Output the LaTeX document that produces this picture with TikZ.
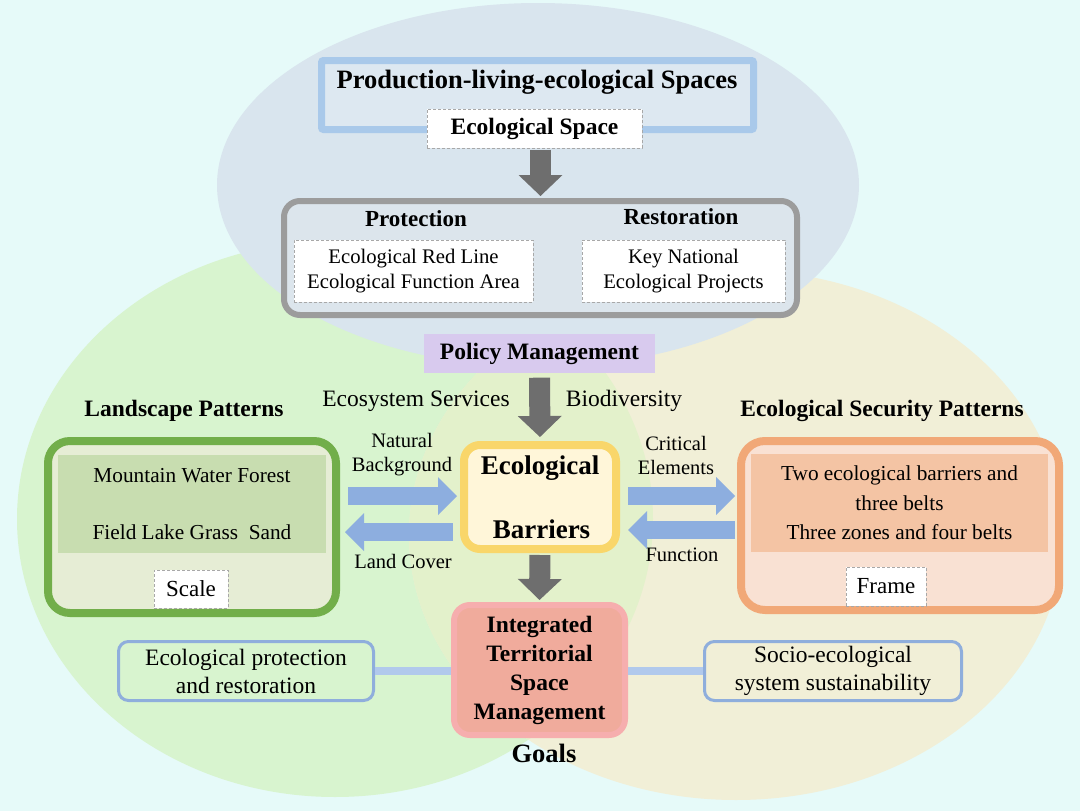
\documentclass[tikz,border=0pt]{standalone}
\usepackage{fontspec}
\setmainfont{Liberation Serif}
\usetikzlibrary{arrows.meta}
\definecolor{bg}{HTML}{E6FAF9}
\definecolor{ellgreen}{HTML}{D8F4CF}
\definecolor{ellbeige}{HTML}{F1EFD7}
\definecolor{ellmix}{HTML}{E3F1CB}
\definecolor{elltop}{HTML}{D9E5EE}
\definecolor{boxblue}{HTML}{DDE8F1}
\definecolor{blueb}{HTML}{A9C9EA}
\definecolor{boxgray}{HTML}{DCE5EC}
\definecolor{grayb}{HTML}{9C9C9C}
\definecolor{dashgray}{HTML}{A8A8A8}
\definecolor{lav}{HTML}{D8CAEE}
\definecolor{arrowgray}{HTML}{6E6E6E}
\definecolor{arrowblue}{HTML}{8DAEDF}
\definecolor{greenb}{HTML}{72AE4A}
\definecolor{greenfill}{HTML}{E6EDD5}
\definecolor{greeninner}{HTML}{C8DDB0}
\definecolor{yelb}{HTML}{F9D66A}
\definecolor{yelfill}{HTML}{FFF6D9}
\definecolor{orb}{HTML}{F1A877}
\definecolor{orfill}{HTML}{F9E1D3}
\definecolor{orinner}{HTML}{F4C4A4}
\definecolor{pinkb}{HTML}{F6AEAE}
\definecolor{pinkfill}{HTML}{F0AB9C}
\definecolor{goalb}{HTML}{8FAEDC}
\definecolor{connblue}{HTML}{B1C9EC}
\tikzset{
  dbox/.style={draw=dashgray, dash pattern=on 3pt off 2pt, line width=0.8pt, fill=white, inner sep=0pt, align=center},
  gblk/.style={line width=21pt, draw=arrowgray, -{Triangle[length=21pt,width=44pt,line width=0pt]}},
  bblk/.style={line width=18pt, draw=arrowblue, -{Triangle[length=19pt,width=38pt,line width=0pt]}},
  conn/.style={line width=8pt, draw=connblue},
  lbl/.style={inner sep=0pt, text=black, align=center},
  bighead/.style={lbl, font=\bfseries\fontsize{23.5}{28}\selectfont},
  plain/.style={lbl, font=\fontsize{23.5}{28}\selectfont},
  small/.style={lbl, font=\fontsize{20.5}{24}\selectfont},
  thickbox/.style={inner sep=0pt, align=center},
}
\begin{document}
\begin{tikzpicture}[x=1pt,y=-1pt]
\useasboundingbox (0,0) rectangle (1080,811);
\fill[bg] (0,0) rectangle (1080,811);
% background ellipses
\fill[ellgreen] (335,519) ellipse [x radius=318pt, y radius=278pt];
\fill[ellbeige] (736,535) ellipse [x radius=327pt, y radius=265pt];
\begin{scope}
  \clip (335,519) ellipse [x radius=318pt, y radius=278pt];
  \fill[ellmix] (736,535) ellipse [x radius=327pt, y radius=265pt];
\end{scope}
\fill[elltop] (538,185) ellipse [x radius=321pt, y radius=182pt];

% top part
\node[thickbox, draw=blueb, line width=7pt, fill=boxblue, rounded corners=2pt, minimum width=432pt, minimum height=69pt] (pl) at (537.5,95) {};
\node[lbl, font=\bfseries\fontsize{26.5}{30}\selectfont] (plt) at (537,82) {Production-living-ecological Spaces};
\node[dbox, minimum width=215pt, minimum height=39pt, font=\bfseries\fontsize{23.5}{28}\selectfont] (es) at (534.5,128.5) {Ecological Space};

\node[thickbox, draw=grayb, line width=6pt, fill=boxgray, rounded corners=16pt, minimum width=513pt, minimum height=114pt] (pr) at (540.5,258) {};
\node[lbl, font=\bfseries\fontsize{23}{27}\selectfont] (prot) at (416,219) {Protection};
\node[lbl, font=\bfseries\fontsize{23}{27}\selectfont] (rest) at (681,217) {Restoration};
\node[dbox, minimum width=239pt, minimum height=62pt, font=\fontsize{20.7}{25}\selectfont] (rl) at (413.5,271) {Ecological Red Line\\Ecological Function Area};
\node[dbox, minimum width=203pt, minimum height=62pt, font=\fontsize{20.7}{25}\selectfont] (kn) at (683.5,271) {Key National\\Ecological Projects};
\draw[gblk, shorten <=1.5pt, shorten >=2pt] (pr.north |- es.south) -- (pr.north);

% policy
\node[fill=lav, inner sep=0pt, minimum width=231pt, minimum height=39pt, font=\bfseries\fontsize{23.5}{28}\selectfont] (pm) at (539.5,353.5) {Policy Management};
\node[plain] (esv) at (416,401) {Ecosystem Services};
\node[plain] (bio) at (624,401) {Biodiversity};

% landscape patterns
\node[bighead] (lpt) at (184,411) {Landscape Patterns};
\node[thickbox, draw=greenb, line width=8pt, fill=greenfill, rounded corners=22pt, minimum width=288pt, minimum height=172pt] (lp) at (192,527) {};
\node[thickbox, fill=greeninner, minimum width=268pt, minimum height=98pt, font=\fontsize{21.3}{57}\selectfont] (lpi) at (192,504) {Mountain Water Forest\\Field Lake Grass\ \ Sand};
\node[dbox, minimum width=74pt, minimum height=38pt, font=\fontsize{23}{27}\selectfont] (sc) at (191,589) {Scale};

% ecological barriers
\node[thickbox, draw=yelb, line width=8pt, fill=yelfill, rounded corners=16pt, minimum width=152pt, minimum height=104pt, font=\bfseries\fontsize{27}{64}\selectfont] (eb) at (540,497) {Ecological\\[0pt]\hspace*{3pt}Barriers};
\draw[gblk, shorten <=4.5pt, shorten >=4pt] (pm.south) -- (eb.north);

\node[small] (nb) at (402,455) {Natural\\Background};
\node[small] (lc) at (403,561) {Land Cover};
\draw[bblk, shorten <=8pt, shorten >=3pt] (lp.east |- 0,496) -- (eb.west |- 0,496);
\draw[bblk, shorten <=7pt, shorten >=5pt] (eb.west |- 0,532) -- (lp.east |- 0,532);

% ecological security patterns
\node[bighead] (spt) at (882,411) {Ecological Security Patterns};
\node[thickbox, draw=orb, line width=8pt, fill=orfill, rounded corners=24pt, minimum width=318pt, minimum height=169pt] (sp) at (900,525.5) {};
\node[thickbox, fill=orinner, minimum width=297pt, minimum height=98pt, font=\fontsize{21.3}{29.5}\selectfont] (spi) at (899.5,503) {Two ecological barriers and\\three belts\\Three zones and four belts};
\node[dbox, minimum width=80pt, minimum height=39pt, font=\fontsize{23}{27}\selectfont] (fr) at (886,586.5) {Frame};

\node[small] (ce) at (676,455) {Critical\\Elements};
\node[small] (fn) at (682,555) {Function};
\draw[bblk, shorten <=8pt, shorten >=2pt] (eb.east |- 0,496) -- (sp.west |- 0,496);
\draw[bblk, shorten <=2pt, shorten >=8pt] (sp.west |- 0,530) -- (eb.east |- 0,530);

% integrated territorial space management
\node[thickbox, draw=pinkb, line width=6pt, fill=pinkfill, rounded corners=16pt, minimum width=171pt, minimum height=130pt, font=\bfseries\fontsize{23.5}{29}\selectfont] (it) at (539.5,670) {Integrated\\Territorial\\Space\\Management};
\draw[gblk, shorten <=2pt, shorten >=2pt] (eb.south) -- (it.north);
\node[lbl, font=\bfseries\fontsize{26.5}{30}\selectfont] (goals) at (544,753) {Goals};

% goal boxes
\node[thickbox, draw=goalb, line width=3pt, rounded corners=10pt, minimum width=255pt, minimum height=59pt, font=\fontsize{23.5}{28}\selectfont] (gl) at (246,671) {Ecological protection\\and restoration};
\node[thickbox, draw=goalb, line width=3pt, rounded corners=10pt, minimum width=257pt, minimum height=59pt, font=\fontsize{23.5}{28}\selectfont] (gr) at (833,671) {Socio-ecological\\system sustainability};
\draw[conn] (gl.east) -- (it.west |- gl.east);
\draw[conn] (it.east |- gr.west) -- (gr.west);
\end{tikzpicture}
\end{document}
